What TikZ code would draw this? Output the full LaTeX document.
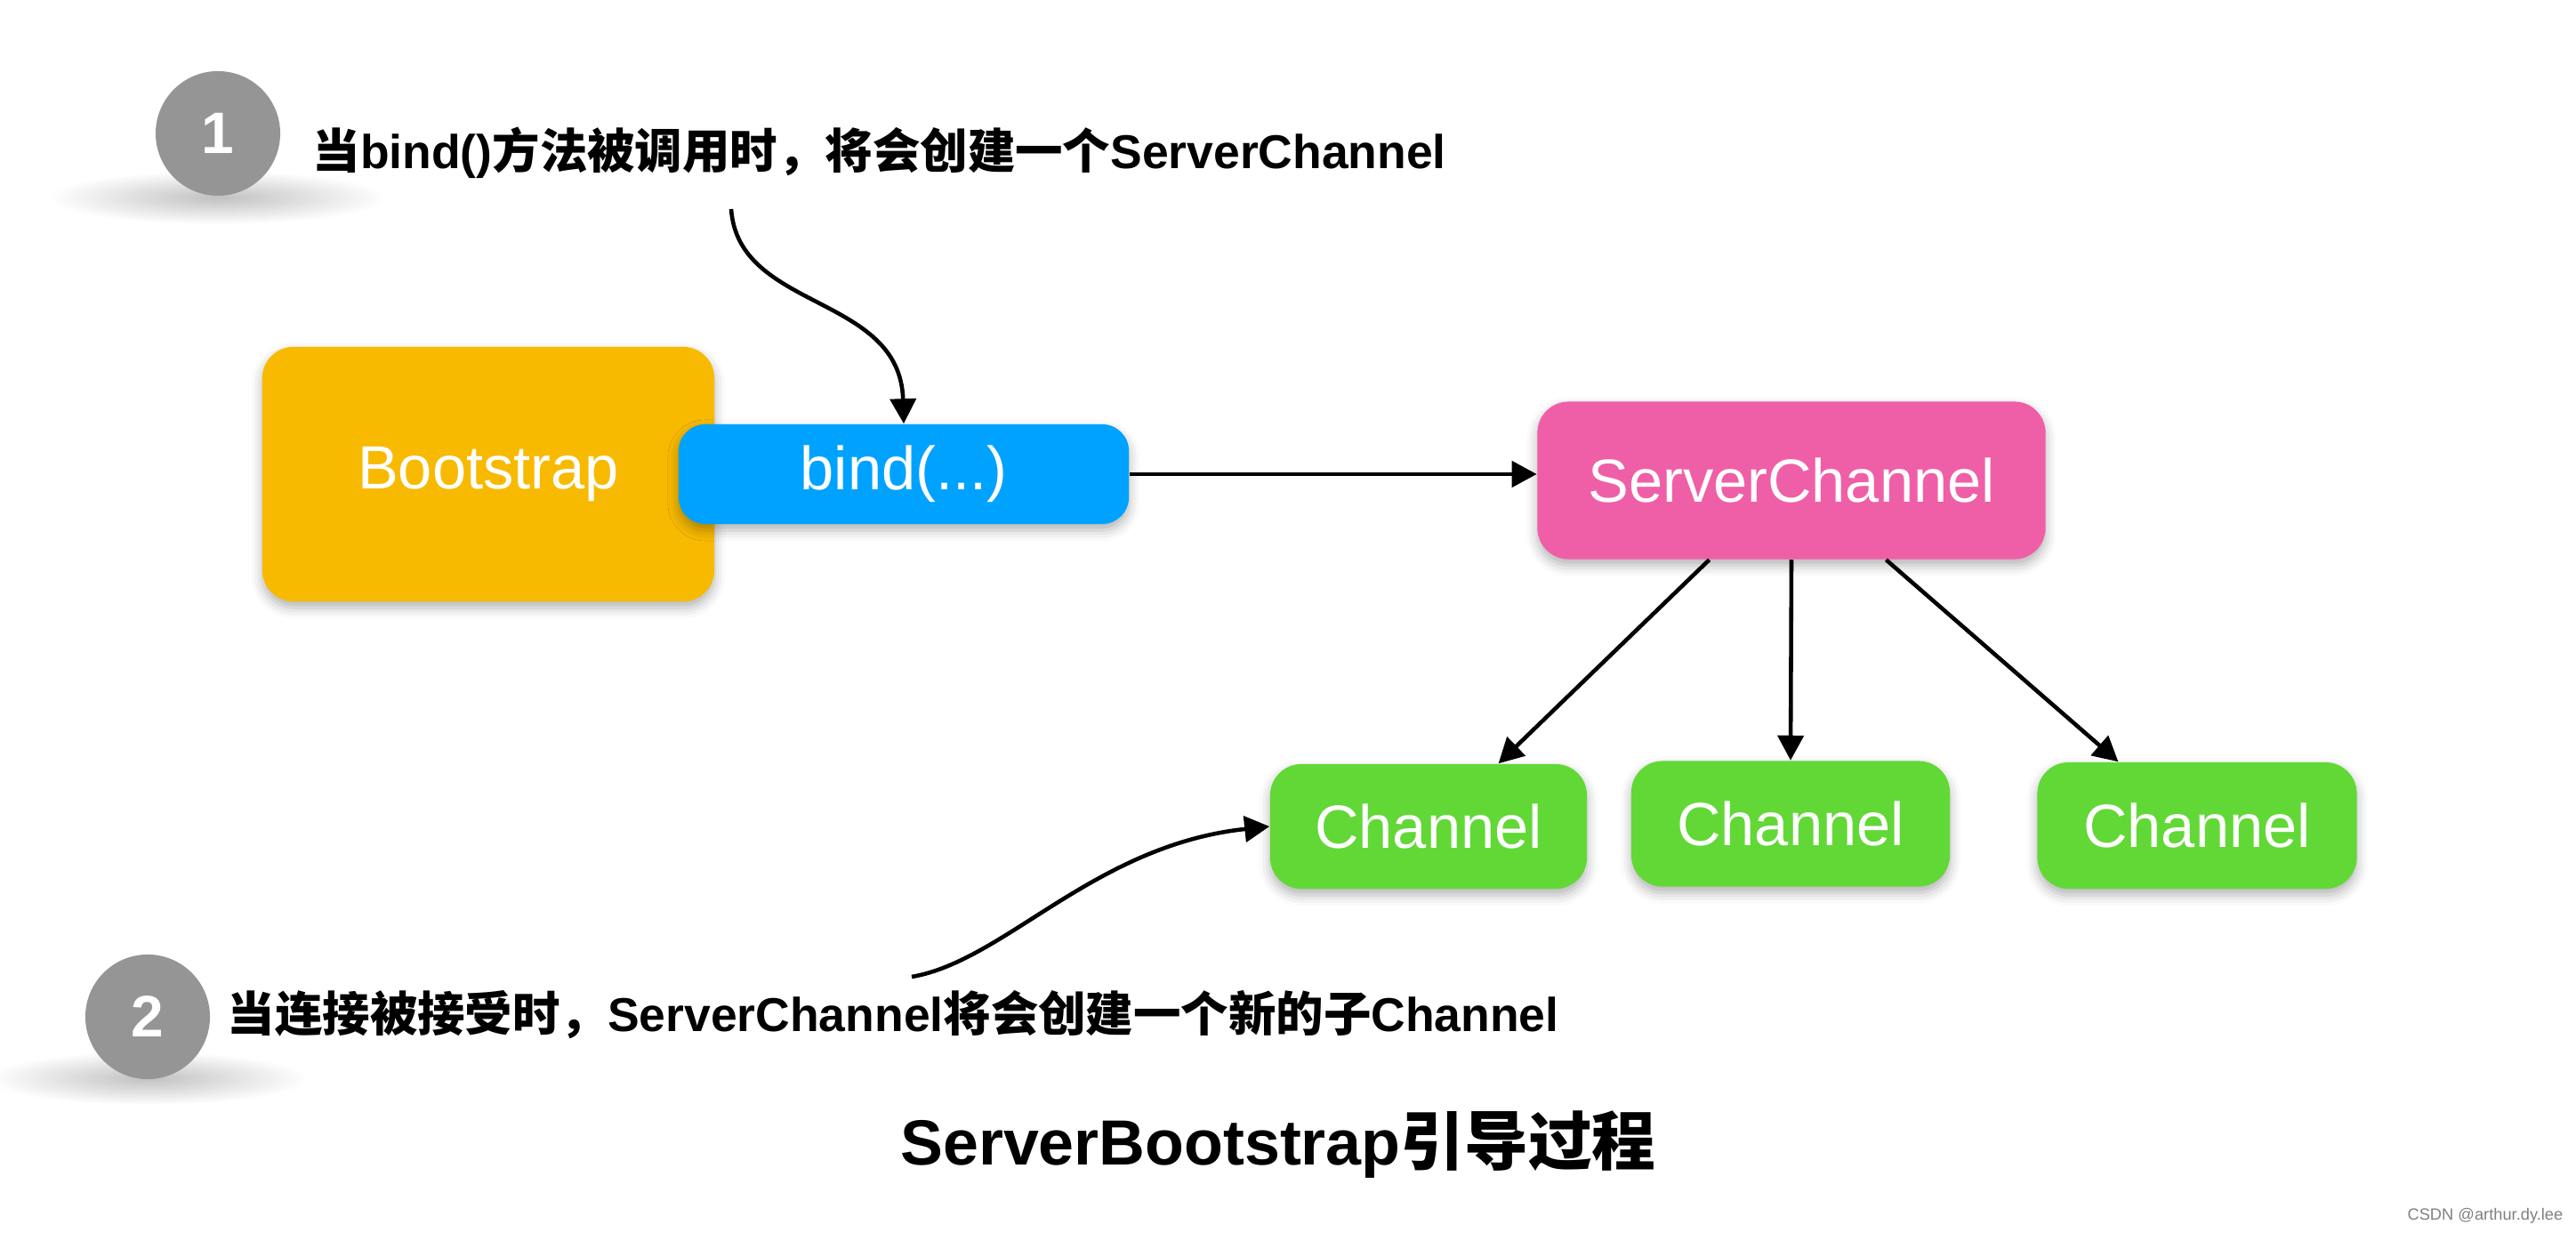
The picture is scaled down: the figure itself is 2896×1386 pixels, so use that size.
\documentclass[tikz,border=0pt]{standalone}
\usepackage{fontspec}
\setmainfont{Liberation Sans}
\newfontfamily\cjkfont{Noto Sans CJK SC}
\usetikzlibrary{arrows.meta}
\usetikzlibrary{shadows.blur}
\usetikzlibrary{fadings}
\definecolor{kyellow}{HTML}{F8BA00}
\definecolor{kblue}{HTML}{00A2FF}
\definecolor{kpink}{HTML}{EF5FA7}
\definecolor{kgreen}{HTML}{61D836}
\definecolor{kgray}{HTML}{959595}
\newcommand{\zh}[1]{{\cjkfont #1}}
\tikzfading[name=softshadow, inner color=transparent!30, outer color=transparent!100]

\begin{document}
\begin{tikzpicture}
    [x=0.01cm, y=-0.01cm,
    box/.style={rounded corners=0.35cm, inner sep=0pt, text=white, font=\fontsize{19.5pt}{22pt}\selectfont,
        blur shadow={shadow xshift=0pt, shadow yshift=-0.07cm, shadow blur radius=0.12cm, shadow opacity=30}},
    stepnum/.style={circle, fill=kgray, minimum size=1.4cm, inner sep=0pt, text=white, font=\fontsize{18.7pt}{20pt}\selectfont\bfseries},
    note/.style={anchor=west, inner sep=0pt, font=\fontsize{15.2pt}{18pt}\selectfont\bfseries},
    arrow/.style={-{Triangle[length=0.28cm, width=0.29cm]}, line width=1.3pt}]
     \useasboundingbox (0,0) rectangle (2896,1386);
     % shadows under the step circles
     \fill[black, opacity=0.35, path fading=softshadow] (245,222) ellipse [x radius=1.9cm, y radius=0.3cm];
     \fill[black, opacity=0.35, path fading=softshadow] (166,1212) ellipse [x radius=1.8cm, y radius=0.3cm];
     \node[stepnum] (s1) at (245,150)    {1};
     \node[stepnum] (s2) at (166,1143)   {2};
     \node[note] (t1) at (351,172)       {\zh{当}bind()\zh{方法被调用时，将会创建一个}ServerChannel};
     \node[note] (t2) at (255,1141)      {\zh{当连接被接受时，}ServerChannel\zh{将会创建一个新的子}Channel};
     \node[box, fill=kyellow, minimum width=5.08cm, minimum height=2.86cm] (boot) at (549,533)  {Bootstrap};
     \node[box, fill=kblue, minimum width=5.06cm, minimum height=1.12cm, rounded corners=0.3cm] (bind) at (1016,533) {bind(...)};
     \node[box, fill=kpink, minimum width=5.71cm, minimum height=1.77cm] (sc) at (2014,540)  {ServerChannel};
     \node[box, fill=kgreen, minimum width=3.56cm, minimum height=1.40cm] (ch1) at (1606,929) {Channel};
     \node[box, fill=kgreen, minimum width=3.58cm, minimum height=1.41cm] (ch2) at (2013,926) {Channel};
     \node[box, fill=kgreen, minimum width=3.59cm, minimum height=1.42cm] (ch3) at (2470,928) {Channel};
     \node[font=\fontsize{20.4pt}{24pt}\selectfont\bfseries] (title) at (1437,1287) {ServerBootstrap\zh{引导过程}};
     \node[anchor=east, inner sep=0pt, text=gray, font=\fontsize{5.2pt}{6pt}\selectfont] (mark) at (2882,1367) {CSDN @arthur.dy.lee};
     \coordinate (c1) at (822,235);
     \coordinate (c2) at (1025,1098);
     \draw[arrow] (bind.east) -- (bind.east -| sc.west);
     \draw[arrow] (sc.224) -- (ch1.42);
     \draw[arrow] (sc.south) -- (ch2.north);
     \draw[arrow] (sc.320) -- (ch3.141);
     \draw[arrow] (c1) .. controls (830,350) and (1012,330) .. (bind.north);
     \draw[arrow] (c2) .. controls (1130,1080) and (1230,950) .. (ch1.west);
\end{tikzpicture}
\end{document}
